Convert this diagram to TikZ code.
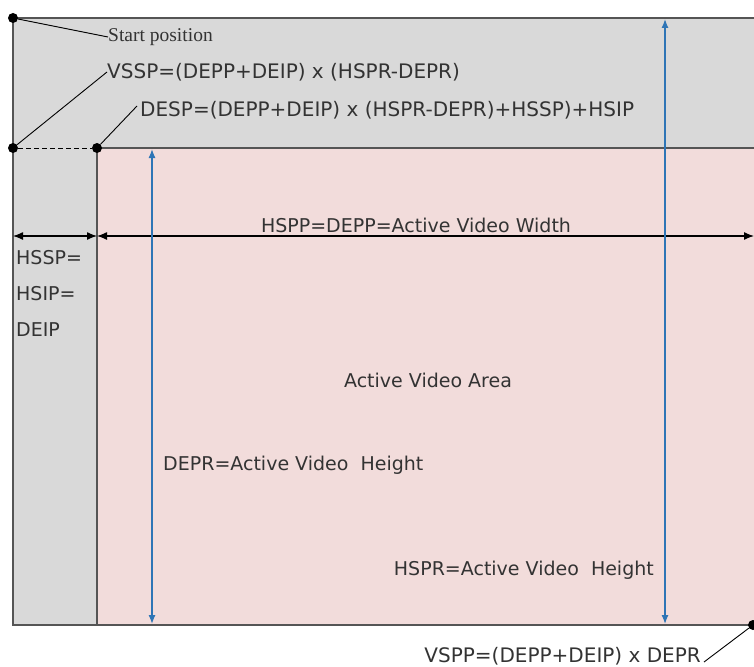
\documentclass[tikz,border=0pt]{standalone}
\usepackage{fontspec}
\setmainfont{DejaVu Sans}
\newfontfamily\serifnote{Liberation Serif}
\usetikzlibrary{arrows.meta}
\definecolor{grayfill}{HTML}{D9D9D9}
\definecolor{pinkfill}{HTML}{F2DCDB}
\definecolor{bluearrow}{HTML}{2E75B6}
\definecolor{edge}{HTML}{555555}
\definecolor{txt}{HTML}{333333}
\tikzset{
  lbl/.style={inner sep=0pt, text=txt, font=\fontsize{19}{21}\selectfont},
  formula/.style={lbl, font=\fontsize{20}{22}\selectfont},
  dot/.style={circle, fill=black, inner sep=0pt, minimum size=10pt},
  harr/.style={black, line width=1.3pt, {Latex[length=10pt,width=8pt]}-{Latex[length=10pt,width=8pt]}},
  varr/.style={bluearrow, line width=1.3pt, {Latex[length=9pt,width=7pt]}-{Latex[length=9pt,width=7pt]}},
  leader/.style={black, line width=0.9pt}
}
\begin{document}
\begin{tikzpicture}[x=1pt,y=-1pt]
\useasboundingbox (0,0) rectangle (754,666);
% regions
\fill[grayfill] (13,18) rectangle (754,625);
\fill[pinkfill] (97,148) rectangle (754,625);
\draw[edge, line width=1.4pt] (754,18) -- (13,18) -- (13,625) -- (754,625);
\draw[edge, line width=1.4pt] (97,625) -- (97,148) -- (754,148);
% dots
\node[dot] (start) at (13,18) {};
\node[dot] (vssp) at (13,148) {};
\node[dot] (desp) at (97,148) {};
\node[dot] (vspp) at (753,625) {};
\draw[black, dash pattern=on 5pt off 3pt, line width=0.9pt] (vssp) -- (desp);
% coordinates
\coordinate (hl) at (13,236);
\coordinate (hm) at (97,236);
\coordinate (hr) at (754,236);
\coordinate (b1t) at (152,149);
\coordinate (b1b) at (152,624);
\coordinate (b2t) at (665,19);
\coordinate (b2b) at (665,624);
\draw[harr] (hl) -- (hm);
\draw[harr] (hm) -- (hr);
\draw[varr] (b1t) -- (b1b);
\draw[varr] (b2t) -- (b2b);
% labels
\node[inner sep=0pt, anchor=west, text=txt, font=\serifnote\fontsize{19.5}{21}\selectfont] (tstart) at (108,37) {Start position};
\node[formula, anchor=west] (tvssp) at (107,72) {VSSP=(DEPP+DEIP) x (HSPR-DEPR)};
\node[formula, anchor=west] (tdesp) at (140,110) {DESP=(DEPP+DEIP) x (HSPR-DEPR)+HSSP)+HSIP};
\draw[leader] (start) -- (tstart.west);
\draw[leader] (vssp) -- (tvssp.west);
\draw[leader] (desp) -- ([xshift=-3pt,yshift=4pt]tdesp.west);
\node[lbl] (thspp) at (416,225) {HSPP=DEPP=Active Video Width};
\node[lbl, anchor=west] (thssp) at (16,258) {HSSP=};
\node[lbl, anchor=west] (thsip) at (16,294) {HSIP=};
\node[lbl, anchor=west] (tdeip) at (16,330) {DEIP};
\node[lbl] (tarea) at (428,380) {Active Video Area};
\node[lbl, anchor=west] (tdepr) at (163,465) {DEPR=Active Video\ \ Height};
\node[lbl, anchor=east] (thspr) at (654,570) {HSPR=Active Video\ \ Height};
\node[formula, anchor=east] (tvspp) at (701,656) {VSPP=(DEPP+DEIP) x DEPR};
\draw[leader] (vspp) -- ([xshift=3pt,yshift=-6pt]tvspp.east);
\end{tikzpicture}
\end{document}
